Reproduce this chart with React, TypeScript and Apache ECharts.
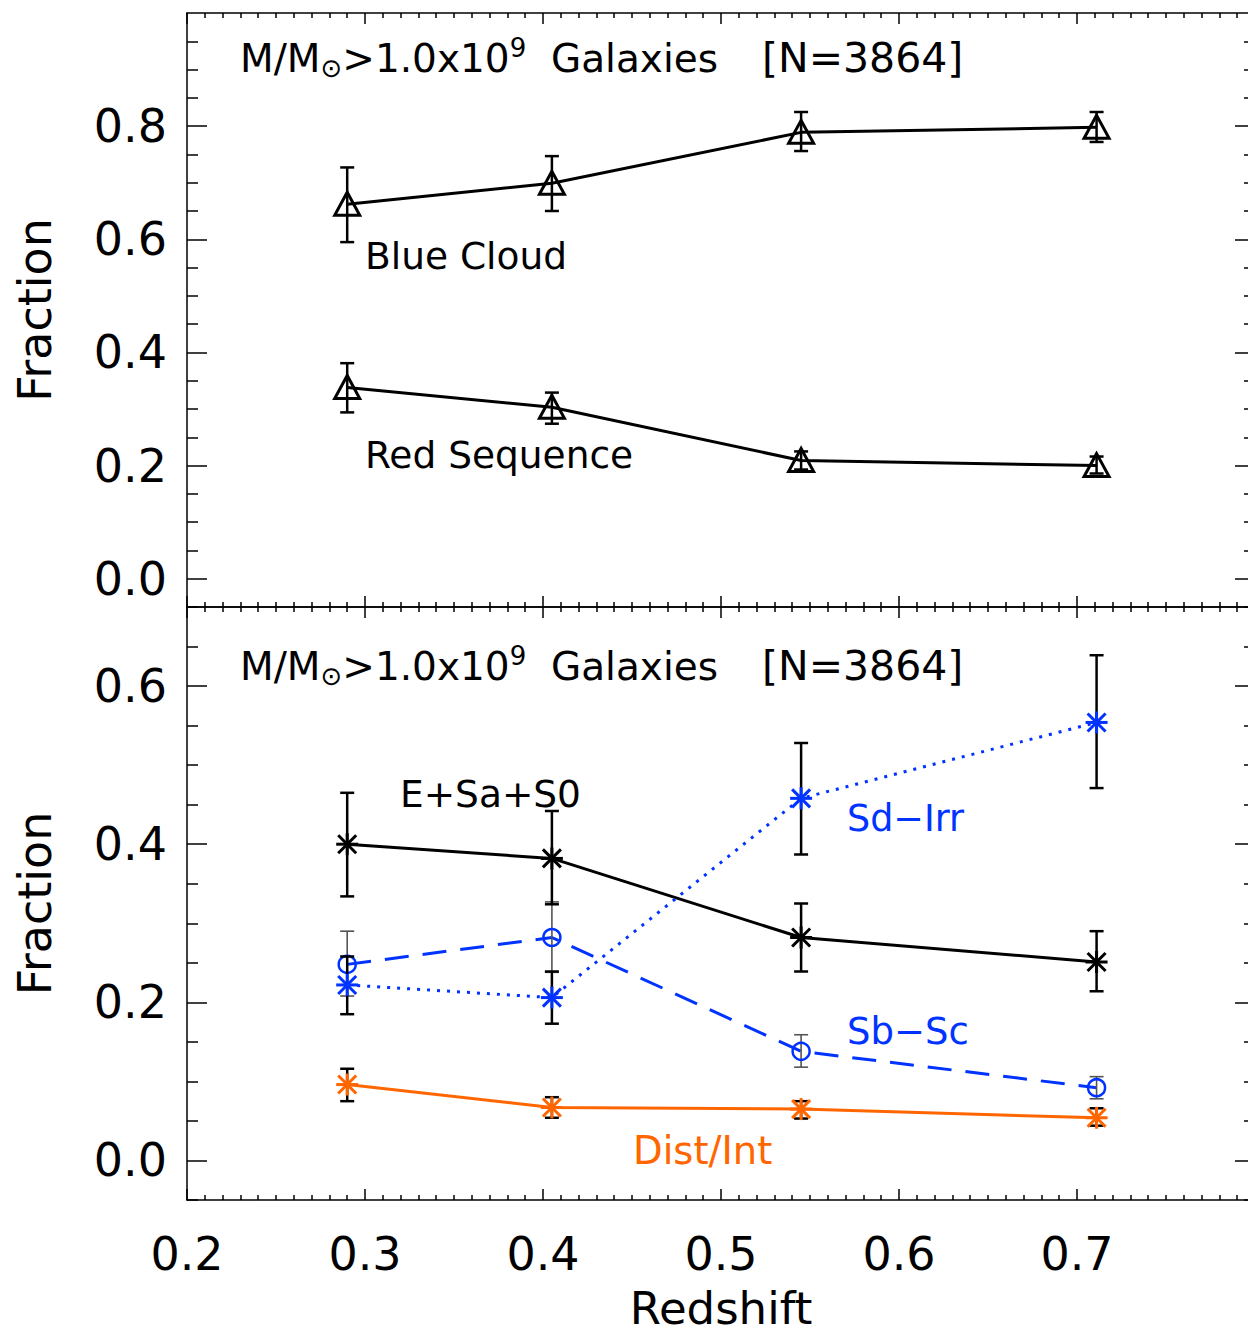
import React, { useEffect, useRef } from "react";
import * as echarts from "echarts";

// Redshift bins shared by every sample
const redshift = [0.29, 0.405, 0.545, 0.711];

// Upper panel: colour classes
const blueCloud = [0.662, 0.699, 0.789, 0.798];
const blueCloudLo = [0.595, 0.65, 0.756, 0.772];
const blueCloudHi = [0.727, 0.747, 0.825, 0.825];

const redSequence = [0.338, 0.303, 0.209, 0.2];
const redSequenceLo = [0.294, 0.274, 0.193, 0.186];
const redSequenceHi = [0.381, 0.329, 0.225, 0.216];

// Lower panel: morphological classes
const earlyType = [0.4, 0.382, 0.282, 0.251];
const earlyTypeLo = [0.334, 0.324, 0.239, 0.214];
const earlyTypeHi = [0.465, 0.442, 0.325, 0.29];

const sdIrr = [0.222, 0.206, 0.458, 0.554];
const sdIrrLo = [0.185, 0.173, 0.387, 0.471];
const sdIrrHi = [0.258, 0.239, 0.528, 0.639];

const sbSc = [0.248, 0.282, 0.138, 0.092];
const sbScLo = [0.208, 0.238, 0.118, 0.078];
const sbScHi = [0.29, 0.327, 0.159, 0.106];

const distInt = [0.096, 0.067, 0.065, 0.054];
const distIntLo = [0.075, 0.054, 0.053, 0.044];
const distIntHi = [0.116, 0.08, 0.075, 0.066];

// Axis ticks
const topMajorTicks = [0.0, 0.2, 0.4, 0.6, 0.8];
const topMinorTicks = [-0.05, 0.05, 0.1, 0.15, 0.25, 0.3, 0.35, 0.45, 0.5, 0.55, 0.65, 0.7, 0.75, 0.85, 0.9, 0.95];
const bottomMajorTicks = [0.0, 0.2, 0.4, 0.6];
const bottomMinorTicks = [-0.05, 0.05, 0.1, 0.15, 0.25, 0.3, 0.35, 0.45, 0.5, 0.55, 0.65];

const FONT = "DejaVu Sans";
const BLUE = "#0033ff";
const ORANGE = "#ff6600";

// The plot frame runs slightly past the right edge of the page, so the
// chart canvas is wider than the visible area and clipped by its wrapper.
const PAGE_W = 1248;
const PAGE_H = 1338;
const CANVAS_W = 1270;
const GRID_LEFT = 187;
const GRID_WIDTH = 1068;

function pack(vals: number[], lo: number[], hi: number[]) {
  return redshift.map((z, i) => [z, vals[i], lo[i], hi[i]]);
}

function markerSeries(
  name: string,
  data: number[][],
  kind: "triangle" | "star" | "circle",
  color: string,
  barColor: string,
  barWidth: number,
  xi: number,
  yi: number
) {
  return {
    type: "custom",
    name,
    xAxisIndex: xi,
    yAxisIndex: yi,
    data,
    encode: { x: 0, y: 1 },
    z: 5,
    renderItem: (_p: any, api: any) => {
      const x = api.value(0);
      const y = api.value(1);
      const c = api.coord([x, y]);
      const pl = api.coord([x, api.value(2)]);
      const ph = api.coord([x, api.value(3)]);
      const cap = 7;
      const bar = { stroke: barColor, lineWidth: barWidth, fill: null };
      const children: any[] = [
        { type: "line", shape: { x1: c[0], y1: pl[1], x2: c[0], y2: ph[1] }, style: bar },
        { type: "line", shape: { x1: c[0] - cap, y1: pl[1], x2: c[0] + cap, y2: pl[1] }, style: bar },
        { type: "line", shape: { x1: c[0] - cap, y1: ph[1], x2: c[0] + cap, y2: ph[1] }, style: bar },
      ];
      const ms = { stroke: color, lineWidth: 3, fill: null };
      if (kind === "triangle") {
        children.push({
          type: "polygon",
          shape: {
            points: [
              [c[0], c[1] - 12],
              [c[0] - 12.5, c[1] + 11],
              [c[0] + 12.5, c[1] + 11],
            ],
          },
          style: ms,
        });
      } else if (kind === "star") {
        const h = 11;
        const d = 9;
        children.push(
          { type: "line", shape: { x1: c[0] - h, y1: c[1], x2: c[0] + h, y2: c[1] }, style: ms },
          { type: "line", shape: { x1: c[0], y1: c[1] - h, x2: c[0], y2: c[1] + h }, style: ms },
          { type: "line", shape: { x1: c[0] - d, y1: c[1] - d, x2: c[0] + d, y2: c[1] + d }, style: ms },
          { type: "line", shape: { x1: c[0] - d, y1: c[1] + d, x2: c[0] + d, y2: c[1] - d }, style: ms }
        );
      } else {
        children.push({ type: "circle", shape: { cx: c[0], cy: c[1], r: 8.5 }, style: { stroke: color, lineWidth: 2.5, fill: null } });
      }
      return { type: "group", children };
    },
  };
}

function lineSeries(name: string, vals: number[], color: string, dash: any, xi: number, yi: number) {
  return {
    type: "line",
    name,
    xAxisIndex: xi,
    yAxisIndex: yi,
    data: redshift.map((z, i) => [z, vals[i]]),
    symbol: "none",
    z: 3,
    lineStyle: { color, width: 3, type: dash },
  };
}

function xAxisDef(gridIndex: number, position: "top" | "bottom", labels: boolean) {
  return {
    type: "value",
    gridIndex,
    position,
    min: 0.2,
    max: 0.8,
    interval: 0.1,
    axisLine: { show: true, onZero: false, lineStyle: { color: "#000", width: 1.5 } },
    axisTick: { show: true, inside: true, length: 11, lineStyle: { color: "#000", width: 1.5 } },
    minorTick: { show: true, splitNumber: 10, length: 5, lineStyle: { color: "#000", width: 1.5 } },
    splitLine: { show: false },
    axisLabel: labels
      ? {
          show: true,
          margin: 31,
          fontSize: 46,
          fontFamily: FONT,
          color: "#000",
          formatter: (v: number) => (v > 0.75 ? "" : v.toFixed(1)),
        }
      : { show: false },
    name: labels ? "Redshift" : "",
    nameLocation: "middle",
    nameGap: 86,
    nameTextStyle: { fontSize: 45, fontFamily: FONT, color: "#000" },
  };
}

function yAxisDef(
  gridIndex: number,
  position: "left" | "right",
  min: number,
  max: number,
  ticks: number[],
  len: number,
  withLabels: boolean,
  withLine: boolean
) {
  return {
    type: "value",
    gridIndex,
    position,
    min,
    max,
    axisLine: { show: withLine, onZero: false, lineStyle: { color: "#000", width: 1.5 } },
    axisTick: { show: true, inside: true, length: len, customValues: ticks, lineStyle: { color: "#000", width: 1.5 } },
    splitLine: { show: false },
    axisLabel: withLabels
      ? {
          show: true,
          customValues: ticks,
          margin: 20,
          fontSize: 46,
          fontFamily: FONT,
          color: "#000",
          formatter: (v: number) => v.toFixed(1),
        }
      : { show: false },
    name: withLabels ? "Fraction" : "",
    nameLocation: "middle",
    nameGap: 129,
    nameTextStyle: { fontSize: 46, fontFamily: FONT, color: "#000" },
  };
}

function titleText(y: number) {
  return [
    {
      type: "text",
      x: 240,
      y,
      style: {
        text: "{m|M/M}{sun|⊙}{m|>1.0x10}{sup|9}{m|  Galaxies}",
        verticalAlign: "middle",
        fill: "#000",
        rich: {
          m: { fontSize: 39, fontFamily: FONT, lineHeight: 46, verticalAlign: "middle", fill: "#000" },
          sun: { fontSize: 26, fontFamily: FONT, lineHeight: 26, verticalAlign: "bottom", fill: "#000" },
          sup: { fontSize: 26, fontFamily: FONT, lineHeight: 26, verticalAlign: "top", fill: "#000" },
        },
      },
    },
    {
      type: "text",
      x: 762,
      y,
      style: { text: "[N=3864]", fontSize: 41, fontFamily: FONT, fill: "#000", verticalAlign: "middle" },
    },
  ];
}

function label(text: string, x: number, y: number, color: string, size: number) {
  return {
    type: "text",
    x,
    y,
    style: { text, fontSize: size, fontFamily: FONT, fill: color, verticalAlign: "middle" },
  };
}

export default function App() {
  const ref = useRef<HTMLDivElement>(null);

  useEffect(() => {
    if (!ref.current) return;
    const chart = echarts.init(ref.current, undefined, { renderer: "svg" });

    const option: any = {
      animation: false,
      backgroundColor: "#fff",
      grid: [
        { left: GRID_LEFT, top: 13, width: GRID_WIDTH, height: 594 },
        { left: GRID_LEFT, top: 607, width: GRID_WIDTH, height: 593 },
      ],
      xAxis: [
        xAxisDef(0, "bottom", false),
        xAxisDef(0, "top", false),
        xAxisDef(1, "bottom", true),
        xAxisDef(1, "top", false),
      ],
      yAxis: [
        yAxisDef(0, "left", -0.05, 1.0, topMajorTicks, 20, true, true),
        yAxisDef(0, "left", -0.05, 1.0, topMinorTicks, 11, false, false),
        yAxisDef(0, "right", -0.05, 1.0, topMajorTicks, 20, false, true),
        yAxisDef(0, "right", -0.05, 1.0, topMinorTicks, 11, false, false),
        yAxisDef(1, "left", -0.05, 0.7, bottomMajorTicks, 20, true, true),
        yAxisDef(1, "left", -0.05, 0.7, bottomMinorTicks, 11, false, false),
        yAxisDef(1, "right", -0.05, 0.7, bottomMajorTicks, 20, false, true),
        yAxisDef(1, "right", -0.05, 0.7, bottomMinorTicks, 11, false, false),
      ],
      series: [
        lineSeries("Blue Cloud", blueCloud, "#000", "solid", 0, 0),
        lineSeries("Red Sequence", redSequence, "#000", "solid", 0, 0),
        markerSeries("Blue Cloud err", pack(blueCloud, blueCloudLo, blueCloudHi), "triangle", "#000", "#000", 2.5, 0, 0),
        markerSeries("Red Sequence err", pack(redSequence, redSequenceLo, redSequenceHi), "triangle", "#000", "#000", 2.5, 0, 0),

        lineSeries("E+Sa+S0", earlyType, "#000", "solid", 2, 4),
        lineSeries("Sd-Irr", sdIrr, BLUE, [3, 7], 2, 4),
        lineSeries("Sb-Sc", sbSc, BLUE, [24, 14], 2, 4),
        lineSeries("Dist/Int", distInt, ORANGE, "solid", 2, 4),
        markerSeries("Sb-Sc err", pack(sbSc, sbScLo, sbScHi), "circle", BLUE, "#555", 1.6, 2, 4),
        markerSeries("E+Sa+S0 err", pack(earlyType, earlyTypeLo, earlyTypeHi), "star", "#000", "#000", 2.5, 2, 4),
        markerSeries("Sd-Irr err", pack(sdIrr, sdIrrLo, sdIrrHi), "star", BLUE, "#000", 2.5, 2, 4),
        markerSeries("Dist/Int err", pack(distInt, distIntLo, distIntHi), "star", ORANGE, "#000", 2.5, 2, 4),
      ],
      graphic: [
        ...titleText(58),
        ...titleText(666),
        label("Blue Cloud", 365, 256, "#000", 37.5),
        label("Red Sequence", 365, 455, "#000", 37.5),
        label("E+Sa+S0", 400, 794, "#000", 37.5),
        label("Sd\u2212Irr", 847, 818, BLUE, 36.5),
        label("Sb\u2212Sc", 847, 1031, BLUE, 37),
        label("Dist/Int", 633, 1150, ORANGE, 38.5),
      ],
    };

    chart.setOption(option);
    return () => chart.dispose();
  }, []);

  return (
    <div
      style={{
        position: "absolute",
        left: 0,
        top: 0,
        width: PAGE_W,
        height: PAGE_H,
        overflow: "hidden",
        background: "#fff",
      }}
    >
      <div ref={ref} style={{ width: CANVAS_W, height: PAGE_H }} />
    </div>
  );
}
